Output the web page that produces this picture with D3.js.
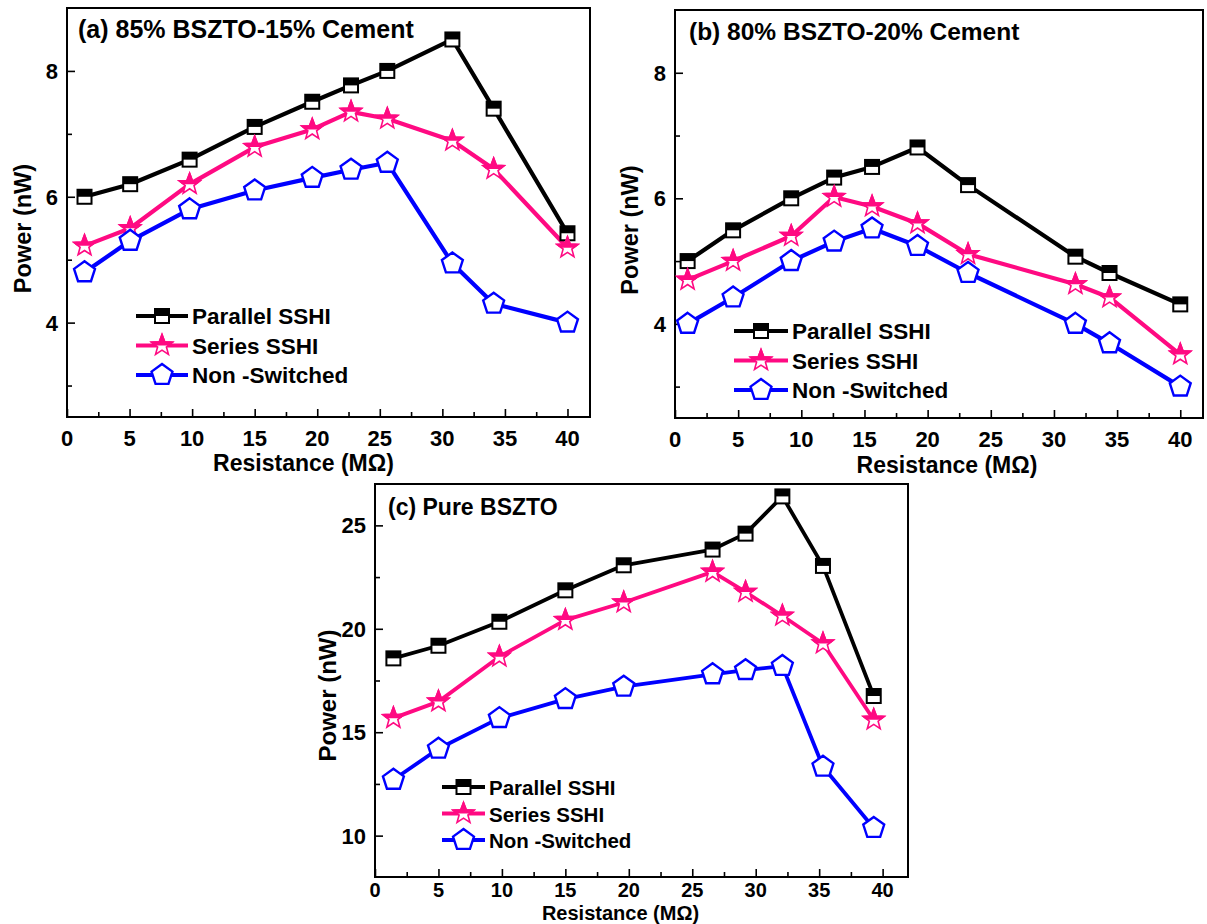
<!DOCTYPE html>
<html>
<head>
<meta charset="utf-8">
<script src="https://cdn.jsdelivr.net/npm/d3@7"></script>
<style>
  body { margin: 0; background: #fff; }
  svg text { font-family: "Liberation Sans", Arial, sans-serif; font-weight: bold; }
</style>
</head>
<body>
<svg id="chart" width="1207" height="924"></svg>
<script>
// ---- data ----
const xTicks = [0, 5, 10, 15, 20, 25, 30, 35, 40];
const seriesNames = ["Parallel SSHI", "Series SSHI", "Non -Switched"];

// (a) 85% BSZTO-15% Cement
const xA = [1.4, 5.05, 9.8, 15, 19.6, 22.7, 25.6, 30.8, 34.1, 40];
const parA = [6.0, 6.2, 6.59, 7.11, 7.51, 7.77, 8.0, 8.5, 7.4, 5.42];
const serA = [5.22, 5.5, 6.2, 6.79, 7.07, 7.35, 7.24, 6.89, 6.44, 5.19];
const nonA = [4.8, 5.3, 5.8, 6.1, 6.3, 6.43, 6.54, 4.94, 4.3, 4.0];
const yTicksA = [4, 6, 8];

// (b) 80% BSZTO-20% Cement
const xB = [1.0, 4.6, 9.2, 12.6, 15.6, 19.2, 23.2, 31.7, 34.4, 40];
const parB = [5.0, 5.49, 6.0, 6.33, 6.5, 6.81, 6.21, 5.07, 4.81, 4.31];
const serB = [4.7, 5.0, 5.4, 6.02, 5.87, 5.6, 5.11, 4.63, 4.42, 3.51];
const nonB = [4.0, 4.42, 5.0, 5.31, 5.52, 5.24, 4.81, 4.0, 3.69, 3.0];
const yTicksB = [4, 6, 8];

// (c) Pure BSZTO
const xC = [1.45, 5.0, 9.8, 15.0, 19.6, 26.6, 29.2, 32.1, 35.3, 39.3];
const parC = [18.57, 19.18, 20.34, 21.86, 23.07, 23.83, 24.6, 26.4, 23.04, 16.75];
const serC = [15.68, 16.48, 18.65, 20.42, 21.27, 22.75, 21.78, 20.63, 19.29, 15.6];
const nonC = [12.7, 14.2, 15.68, 16.6, 17.2, 17.8, 18.0, 18.2, 13.33, 10.37];
const yTicksC = [10, 15, 20, 25];

const BLACK = "#000000", PINK = "#ff0a82", BLUE = "#0000ff";

const svg = d3.select("#chart");

// one clip path for the upper half of a marker (markers are drawn in translated groups)
const defs = svg.append("defs");
defs.append("clipPath").attr("id", "topHalf").attr("clipPathUnits", "userSpaceOnUse")
  .append("rect").attr("x", -20).attr("y", -20).attr("width", 40).attr("height", 20);

const starPath = (r) => {
  const pts = [];
  for (let i = 0; i < 10; i++) {
    const a = -Math.PI / 2 + i * Math.PI / 5;
    const rr = i % 2 === 0 ? r : r * 0.42;
    pts.push([rr * Math.cos(a), rr * Math.sin(a)]);
  }
  return "M" + pts.map(p => p.join(",")).join("L") + "Z";
};
const pentPath = (r) => {
  const pts = [];
  for (let i = 0; i < 5; i++) {
    const a = -Math.PI / 2 + i * 2 * Math.PI / 5;
    pts.push([r * Math.cos(a), r * Math.sin(a)]);
  }
  return "M" + pts.map(p => p.join(",")).join("L") + "Z";
};

// marker drawers, g is already translated to the point
function squareMarker(g, s) {
  g.append("rect").attr("x", -s / 2).attr("y", -s / 2).attr("width", s).attr("height", s)
    .attr("fill", "#fff").attr("stroke", BLACK).attr("stroke-width", 2);
  g.append("rect").attr("x", -s / 2).attr("y", -s / 2).attr("width", s).attr("height", s / 2)
    .attr("fill", BLACK);
}
function starMarker(g, r) {
  g.append("path").attr("d", starPath(r)).attr("fill", "#fff")
    .attr("stroke", PINK).attr("stroke-width", 1.6).attr("stroke-linejoin", "miter");
  g.append("path").attr("d", starPath(r)).attr("fill", PINK)
    .attr("stroke", PINK).attr("stroke-width", 1.6).attr("clip-path", "url(#topHalf)");
}
function pentMarker(g, r) {
  g.append("path").attr("d", pentPath(r)).attr("fill", "#fff")
    .attr("stroke", BLUE).attr("stroke-width", 2.4).attr("stroke-linejoin", "miter");
}

function drawPanel(p) {
  const x = d3.scaleLinear().domain(p.xDomain).range([p.left, p.right]);
  const y = d3.scaleLinear().domain(p.yDomain).range([p.bottom, p.top]);
  const g = svg.append("g");

  // inward ticks, Origin style
  const xAxis = d3.axisTop(x).tickValues(xTicks).tickSize(8).tickFormat("");
  const xMinor = d3.axisTop(x).tickValues(xTicks.slice(0, -1).map(v => v + 2.5)).tickSize(5).tickFormat("");
  const yAxis = d3.axisRight(y).tickValues(p.yTicks).tickSize(8).tickFormat("");
  const yMinor = d3.axisRight(y).tickValues(p.yMinor).tickSize(5).tickFormat("");
  [[xAxis, `translate(0,${p.bottom})`], [xMinor, `translate(0,${p.bottom})`],
   [yAxis, `translate(${p.left},0)`], [yMinor, `translate(${p.left},0)`]].forEach(([ax, tr]) => {
    const a = g.append("g").attr("transform", tr).call(ax);
    a.select(".domain").remove();
    a.selectAll("line").attr("stroke", "#000").attr("stroke-width", 1.6);
  });

  // tick labels
  g.selectAll(".xl").data(xTicks).enter().append("text")
    .attr("x", d => x(d)).attr("y", p.bottom + p.xlDy).attr("text-anchor", "middle")
    .attr("font-size", p.xlFs).text(d => d);
  g.selectAll(".yl").data(p.yTicks).enter().append("text")
    .attr("x", p.left - 9).attr("y", d => y(d) + 8).attr("text-anchor", "end")
    .attr("font-size", 22).text(d => d);

  // frame
  g.append("rect").attr("x", p.left).attr("y", p.top)
    .attr("width", p.right - p.left).attr("height", p.bottom - p.top)
    .attr("fill", "none").attr("stroke", "#000").attr("stroke-width", 2);

  // axis titles
  g.append("text").attr("x", (p.left + p.right) / 2 + p.xtDx).attr("y", p.xtY)
    .attr("text-anchor", "middle").attr("font-size", p.xtFs).text("Resistance (M\u03A9)");
  g.append("text").attr("transform", `translate(${p.ytX},${(p.top + p.bottom) / 2 + p.ytDy}) rotate(-90)`)
    .attr("text-anchor", "middle").attr("font-size", p.ytFs).text("Power (nW)");

  // panel title
  g.append("text").attr("x", p.left + p.titleDx).attr("y", p.top + p.titleDy)
    .attr("font-size", p.titleFs).text(p.title);

  const sets = [
    { ys: p.par, color: BLACK, draw: (m) => squareMarker(m, 14) },
    { ys: p.ser, color: PINK, draw: (m) => starMarker(m, 11) },
    { ys: p.non, color: BLUE, draw: (m) => pentMarker(m, 11) }
  ];
  const line = d3.line().x(d => x(d[0])).y(d => y(d[1]));
  sets.forEach(s => {
    const pts = p.xs.map((v, i) => [v, s.ys[i]]);
    g.append("path").datum(pts).attr("d", line).attr("fill", "none")
      .attr("stroke", s.color).attr("stroke-width", p.lw).attr("stroke-linejoin", "round");
  });
  sets.forEach(s => {
    const pts = p.xs.map((v, i) => [v, s.ys[i]]);
    g.selectAll(null).data(pts).enter().append("g")
      .attr("transform", d => `translate(${x(d[0])},${y(d[1])})`)
      .each(function () { s.draw(d3.select(this)); });
  });

  // legend
  sets.forEach((s, i) => {
    const ly = p.legY + i * p.legGap;
    g.append("line").attr("x1", p.legX).attr("x2", p.legX + p.legW).attr("y1", ly).attr("y2", ly)
      .attr("stroke", s.color).attr("stroke-width", p.lw);
    const m = g.append("g").attr("transform", `translate(${p.legX + p.legW / 2},${ly})`);
    s.draw(m);
    g.append("text").attr("x", p.legX + p.legW + 4).attr("y", ly + 8)
      .attr("font-size", p.legFs).text(seriesNames[i]);
  });
}

drawPanel({
  title: "(a) 85% BSZTO-15% Cement", xs: xA, par: parA, ser: serA, non: nonA,
  left: 67, right: 590, top: 8, bottom: 417, xDomain: [0, 41.8], yDomain: [2.5, 9],
  yTicks: yTicksA, yMinor: [3, 5, 7], lw: 4.2, xlDy: 29, xlFs: 22, xtY: 471, xtFs: 23,
  titleDx: 11, titleDy: 30, titleFs: 25, ytX: 31, ytDy: 16, ytFs: 23.5, xtDx: -25,
  legX: 136, legW: 52, legY: 316, legGap: 29.5, legFs: 22.5
});
drawPanel({
  title: "(b) 80% BSZTO-20% Cement", xs: xB, par: parB, ser: serB, non: nonB,
  left: 675, right: 1203, top: 10, bottom: 418, xDomain: [0, 41.8], yDomain: [2.5, 9],
  yTicks: yTicksB, yMinor: [3, 5, 7], lw: 4.2, xlDy: 29, xlFs: 22, xtY: 473, xtFs: 23,
  titleDx: 14, titleDy: 30, titleFs: 24.5, ytX: 638, ytDy: 16, ytFs: 23.5, xtDx: 8,
  legX: 734, legW: 54, legY: 331, legGap: 29.5, legFs: 22.5
});
drawPanel({
  title: "(c) Pure BSZTO", xs: xC, par: parC, ser: serC, non: nonC,
  left: 375, right: 908, top: 484, bottom: 877, xDomain: [0, 42], yDomain: [8, 27],
  yTicks: yTicksC, yMinor: [12.5, 17.5, 22.5], lw: 3.8, xlDy: 20, xlFs: 20, xtY: 919.5, xtFs: 20,
  titleDx: 13, titleDy: 31, titleFs: 23, ytX: 336, ytDy: 15, ytFs: 24, xtDx: -21,
  legX: 442, legW: 43, legY: 787, legGap: 26.5, legFs: 20.5
});
</script>
</body>
</html>
